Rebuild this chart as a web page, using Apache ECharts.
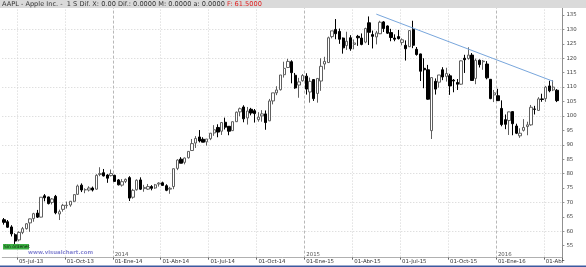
<!DOCTYPE html>
<html><head><meta charset="utf-8">
<script src="https://cdn.jsdelivr.net/npm/echarts@6/dist/echarts.min.js"></script>
<style>html,body{margin:0;padding:0;background:#fff}#c{width:586px;height:267px}</style>
</head><body><div id="c"></div>
<script>
// Weekly candles (week ending Friday), AAPL, from 2013-06-07
const opens = [64.0,63.3,61.5,58.8,57.0,59.6,60.9,62.9,64.4,66.3,
64.9,72.3,71.9,70.0,72.1,66.0,67.6,68.9,69.1,70.4,
72.8,76.0,74.4,74.3,75.0,74.6,79.7,80.3,79.5,79.3,
79.4,77.8,76.0,77.3,78.6,71.8,74.4,77.8,74.8,74.6,
75.5,75.0,76.4,76.8,75.8,74.6,75.5,81.8,85.0,83.9,
85.5,88.0,90.6,92.7,91.9,91.0,92.1,94.1,96.0,94.7,
97.8,96.4,94.9,98.0,101.4,103.1,99.3,102.3,101.8,98.7,
100.0,100.7,98.3,105.2,108.0,109.1,114.3,116.8,118.8,114.1,
110.7,112.2,113.8,108.3,112.6,107.8,112.1,118.0,118.5,127.5,
130.0,129.3,127.0,124.4,127.1,124.8,127.6,127.0,125.6,132.3,
128.2,127.4,128.5,132.6,131.2,128.9,127.0,127.5,125.5,124.5,
124.0,130.0,123.1,121.5,116.5,116.0,94.9,112.0,111.7,116.0,
113.7,113.9,112.4,111.6,111.0,120.0,119.9,121.1,113.0,119.3,
118.8,118.0,112.7,107.3,107.0,102.6,98.7,98.4,101.5,96.5,
93.1,95.0,96.3,96.9,102.4,101.9,105.9,106.0,110.4,109.0,
108.9];
const highs = [64.6,63.9,62.1,59.3,60.0,61.5,62.8,64.4,66.4,67.4,
71.8,72.9,72.0,71.5,72.6,67.5,69.5,70.3,70.5,72.8,
76.2,76.6,74.9,75.6,75.5,79.8,82.2,81.6,79.8,81.4,
79.6,78.1,78.1,78.3,79.1,74.7,78.0,78.7,76.1,76.4,
76.0,76.4,77.0,77.2,76.3,75.4,81.7,85.0,85.7,85.6,
87.8,92.0,93.0,95.1,92.6,92.0,94.1,96.8,97.1,97.9,
99.4,96.5,98.0,101.5,102.9,103.7,103.1,102.8,102.4,101.3,
102.0,101.9,105.9,108.0,110.3,114.2,118.8,119.8,119.3,114.9,
113.2,114.5,114.8,113.3,112.8,113.0,120.0,120.5,127.5,129.5,
133.6,130.3,127.2,129.2,128.0,126.5,128.1,128.6,130.6,134.5,
129.6,129.5,133.0,132.9,131.4,130.2,128.3,129.8,126.9,126.2,
129.6,133.0,123.9,121.6,120.0,117.7,113.3,113.0,114.2,116.9,
116.7,114.6,112.8,112.8,119.2,121.2,123.8,121.8,119.9,119.6,
119.4,119.0,112.8,109.0,109.4,105.4,100.5,101.5,101.5,97.3,
95.7,98.9,98.0,103.8,103.5,106.5,107.7,110.4,112.2,112.4,
109.3];
const lows = [62.3,61.2,58.2,55.6,56.5,59.0,60.6,59.8,63.3,64.6,
64.8,70.4,69.3,69.3,65.9,63.9,66.8,67.9,68.5,70.1,
72.6,73.6,73.2,73.8,73.8,74.4,79.1,79.0,76.8,79.0,
77.2,75.9,75.5,76.7,70.5,71.3,74.1,74.3,73.7,74.3,
74.2,74.7,75.5,75.9,73.9,73.0,74.6,81.2,83.6,83.2,
85.2,87.9,88.9,90.8,90.9,89.7,91.6,93.1,92.6,93.4,
95.3,93.3,94.8,97.9,99.9,97.8,97.0,100.2,97.7,98.0,
98.0,95.2,98.2,104.0,107.2,108.8,113.3,116.6,111.3,109.4,
106.3,111.9,107.4,104.6,105.2,104.6,108.7,116.1,118.4,126.9,
126.6,125.0,121.6,122.9,122.6,123.1,124.3,124.5,125.2,124.6,
123.4,124.8,128.4,129.1,128.4,125.9,125.9,126.5,124.5,119.2,
123.9,123.5,120.9,112.1,109.6,105.6,92.0,107.4,109.8,112.4,
111.9,107.3,108.2,109.0,110.8,114.9,119.5,112.3,111.0,116.8,
116.0,112.7,105.8,104.8,105.2,96.4,95.4,93.4,93.3,93.7,
92.4,94.6,93.3,96.6,100.5,101.8,104.9,104.9,108.2,108.6,
104.8];
const closes = [63.1,61.4,59.1,56.6,59.6,60.9,62.6,64.3,66.1,64.9,
71.8,71.6,69.6,71.2,66.4,66.8,69.0,69.0,70.4,72.7,
75.7,74.3,74.4,75.0,74.3,79.4,80.0,79.2,78.4,80.0,
77.3,76.1,77.2,78.0,71.5,74.2,77.7,74.6,75.2,75.5,
74.9,76.1,76.7,75.9,74.2,74.9,81.7,84.7,83.6,85.4,
87.7,90.4,92.2,91.3,90.9,92.0,94.0,95.2,94.4,97.7,
96.1,94.7,98.0,101.3,102.5,99.0,101.7,101.0,100.8,99.6,
100.7,97.7,105.2,108.0,109.0,114.2,116.5,118.9,115.0,109.7,
111.8,114.0,109.3,112.0,106.0,113.0,117.2,118.9,127.1,129.5,
128.5,126.6,123.6,125.9,123.3,125.3,127.1,124.8,130.3,129.0,
127.6,128.8,132.5,130.3,128.7,127.2,126.6,126.8,126.4,123.3,
129.6,124.5,121.3,115.5,116.0,105.8,113.3,109.3,114.2,113.5,
114.7,110.4,112.1,111.0,119.1,119.5,121.1,112.3,119.3,117.8,
119.0,113.2,106.0,108.0,105.3,97.0,97.1,101.4,97.3,94.0,
94.0,96.0,96.9,103.0,102.3,105.9,105.7,110.0,108.7,110.0,
105.3];

const quarterTickDates = ['2013-07-05','2013-10-04','2014-01-03','2014-04-04','2014-07-04','2014-10-03','2015-01-02','2015-04-03','2015-07-03','2015-10-02','2016-01-01','2016-04-01'];
const quarterLabels = ['05-Jul-13','01-Oct-13','01-Ene-14','01-Abr-14','01-Jul-14','01-Oct-14','01-Ene-15','01-Abr-15','01-Jul-15','01-Oct-15','01-Ene-16','01-Abr'];
const yearDates = ['2014-01-03','2015-01-02','2016-01-01'];
const yearLabels = ['2014','2015','2016'];
const trendStart = ['2015-05-15', 135.3];
const trendEnd = ['2016-04-15', 112.0];
const titleText = 'AAPL - Apple Inc. -  1 S Dif. X: 0.00 Dif.: 0.0000 M: 0.0000 a: 0.0000 ';
const titleRed = 'F: 61.5000';

const DAY = 86400000;
const categories = closes.map((_, i) => new Date(Date.UTC(2013, 5, 7) + i * 7 * DAY).toISOString().slice(0, 10));
const axisCats = categories.concat(['']);
const tickIdx = quarterTickDates.map(d => categories.indexOf(d));
const yearIdx = yearDates.map(d => categories.indexOf(d));
const candles = closes.map((c, i) => [opens[i], c, lows[i], highs[i]]);
const lastClose = closes[closes.length - 1];

const FONT = 'DejaVu Sans';
const box = {left: 2.3, right: 23.6, top: 0.58, bottom: 6.9};

const chart = echarts.init(document.getElementById('c'), null, {renderer: 'canvas'});
chart.setOption({
  animation: false,
  backgroundColor: '#ffffff',
  title: {
    text: titleText + '{r|' + titleRed + '}', left: 2, top: 1, padding: 0, z: 12,
    textStyle: {fontSize: 6.6, fontWeight: 'normal', color: '#333', fontFamily: FONT,
      rich: {r: {color: '#e02020', fontSize: 6.6, fontFamily: FONT}}}
  },
  grid: [Object.assign({}, box), Object.assign({}, box)],
  xAxis: [
    {type: 'category', gridIndex: 0, data: axisCats, boundaryGap: true, position: 'bottom', offset: -2.5,
      axisLine: {show: true, lineStyle: {color: '#b0b0b0', width: 1}},
      axisTick: {show: true, length: 2, interval: (i) => tickIdx.includes(i), lineStyle: {color: '#666'}},
      axisLabel: {show: true, interval: (i) => tickIdx.includes(i),
        formatter: (v, i) => quarterLabels[tickIdx.indexOf(i)] || '',
        align: 'left', fontSize: 5.4, margin: 1, color: '#333', fontFamily: FONT},
      splitLine: {show: true, interval: (i) => tickIdx.includes(i) && !yearIdx.includes(i),
        lineStyle: {color: '#d2d2d2', type: [1, 2], width: 1}}
    },
    {type: 'category', gridIndex: 1, data: axisCats, boundaryGap: true, position: 'bottom', offset: -2.5,
      axisLine: {show: false}, axisTick: {show: false},
      axisLabel: {show: true, inside: true, interval: (i) => yearIdx.includes(i),
        formatter: (v, i) => yearLabels[yearIdx.indexOf(i)] || '',
        align: 'left', fontSize: 5.4, margin: 1, color: '#555', fontFamily: FONT},
      splitLine: {show: true, interval: (i) => yearIdx.includes(i),
        lineStyle: {color: '#b8b8b8', type: [3, 2], width: 1}}
    }
  ],
  yAxis: [
    {type: 'value', gridIndex: 0, position: 'right', min: 50, max: 140, interval: 5,
      axisLine: {show: true, lineStyle: {color: '#909090'}},
      axisTick: {show: true, length: 2, lineStyle: {color: '#909090'}},
      axisLabel: {fontSize: 5.4, color: '#444', margin: 4, fontFamily: FONT,
        formatter: v => (v === 50 || v === 140) ? '' : String(v)},
      splitLine: {show: false}
    },
    {type: 'value', gridIndex: 1, min: 50, max: 140, interval: 10,
      axisLine: {show: false}, axisTick: {show: false}, axisLabel: {show: false},
      splitLine: {show: true, showMinLine: false, showMaxLine: false,
        lineStyle: {color: '#d2d2d2', type: [1, 2], width: 1}}
    }
  ],
  series: [{
    type: 'candlestick', xAxisIndex: 0, yAxisIndex: 0, data: candles, barWidth: 2.8,
    itemStyle: {color: '#ffffff', color0: '#000000', borderColor: '#606060', borderColor0: '#000000', borderWidth: 1},
    markLine: {
      silent: true, symbol: ['none', 'none'], animation: false,
      label: {show: false},
      data: [
        [{coord: trendStart, lineStyle: {color: '#78a6dc', width: 1, type: 'solid'}},
         {coord: trendEnd}],
        {yAxis: lastClose, lineStyle: {opacity: 0},
          label: {show: true, position: 'end', distance: 2, formatter: lastClose.toFixed(2),
            backgroundColor: '#f26b21', color: '#ffffff', fontSize: 5, fontFamily: FONT, padding: [1, 2, 1, 2]}}
      ]
    }
  }],
  graphic: [
    {type: 'rect', left: 0, top: 0, z: 10, shape: {width: 586, height: 8}, style: {fill: '#dadada'}},
    {type: 'rect', left: 3, top: 244, z: 10, shape: {width: 26, height: 5.5}, style: {fill: '#3cb043'}},
    {type: 'text', left: 4, top: 244.6, z: 11, style: {text: 'Sin órdenes', font: '4.4px DejaVu Sans', fill: '#0f2a0f'}},
    {type: 'text', left: 28, top: 249.6, z: 11, style: {text: 'www.visualchart.com', font: 'bold 5.4px DejaVu Sans', fill: '#8a8ad4'}},
    {type: 'rect', left: 0, top: 265.5, z: 10, shape: {width: 586, height: 1.5}, style: {fill: '#3c5aa0'}}
  ]
});
</script>
</body></html>
